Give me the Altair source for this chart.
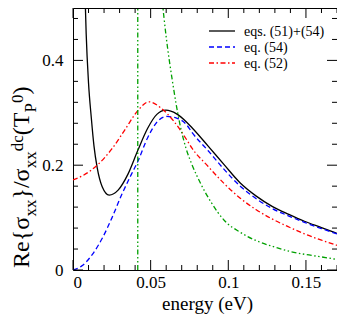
import altair as alt
import pandas as pd

FONT = "Liberation Serif"

# ---- data ----
black_x = [0.0078, 0.0085, 0.0100, 0.0118, 0.0135, 0.0156, 0.0188, 0.0233, 0.0292, 0.0354,
           0.0417, 0.0480, 0.0540, 0.0598, 0.0667, 0.0729, 0.0765, 0.0869, 0.0973, 0.1077,
           0.1180, 0.1285, 0.1390, 0.1490, 0.1600, 0.1700]
black_y = [0.520, 0.450, 0.357, 0.290, 0.237, 0.195, 0.159, 0.143, 0.153, 0.183,
           0.228, 0.270, 0.297, 0.305, 0.298, 0.283, 0.272, 0.237, 0.201, 0.166,
           0.141, 0.121, 0.106, 0.093, 0.081, 0.070]

blue_x = [0.0, 0.00625, 0.0125, 0.01875, 0.025, 0.03125, 0.0375, 0.0417, 0.048, 0.054,
          0.0604, 0.0667, 0.0729, 0.0765, 0.0869, 0.0973, 0.1077, 0.118, 0.1285, 0.139,
          0.149, 0.160, 0.170]
blue_y = [0.0, 0.009, 0.030, 0.060, 0.099, 0.143, 0.182, 0.207, 0.252, 0.282,
          0.293, 0.290, 0.278, 0.263, 0.228, 0.192, 0.160, 0.136, 0.117, 0.103,
          0.091, 0.079, 0.069]

red_x = [0.0, 0.00625, 0.0156, 0.025, 0.0333, 0.0417, 0.049, 0.0563, 0.0646, 0.0729,
         0.0765, 0.0869, 0.0973, 0.1077, 0.118, 0.1285, 0.139, 0.149, 0.160, 0.170]
red_y = [0.172, 0.180, 0.200, 0.231, 0.267, 0.304, 0.321, 0.310, 0.285, 0.250,
         0.233, 0.198, 0.165, 0.137, 0.115, 0.097, 0.082, 0.069, 0.057, 0.047]

green_x = [0.0572, 0.0600, 0.0642, 0.0688, 0.0729, 0.0765, 0.0827, 0.0890, 0.0973, 0.1077,
           0.1180, 0.1285, 0.1390, 0.1490, 0.1600, 0.1700]
green_y = [0.520, 0.445, 0.357, 0.279, 0.231, 0.202, 0.162, 0.129, 0.095, 0.072,
           0.056, 0.045, 0.036, 0.030, 0.025, 0.020]

green_vx = [0.0417, 0.0417]
green_vy = [0.0, 0.5]

x_major_ticks = [0.0, 0.05, 0.1, 0.15]
x_minor_ticks = [0.01, 0.02, 0.03, 0.04, 0.06, 0.07, 0.08, 0.09, 0.11, 0.12, 0.13, 0.14, 0.16, 0.17]
y_major_ticks = [0.0, 0.2, 0.4]
y_minor_ticks = [0.04, 0.08, 0.12, 0.16, 0.24, 0.28, 0.32, 0.36, 0.44, 0.48]

legend_labels = ["eqs. (51)+(54)", "eq. (54)", "eq. (52)"]

# y-axis title pieces: (text, role) ; role: main / sub / sup
ytitle_pieces = [("Re{σ", "main"), ("xx", "sub"), ("}/σ", "main"), ("xx", "sub"),
                 ("dc", "sup"), ("(T", "main"), ("P", "sub"), ("0", "sup"), (")", "main")]

# ---- styles / layout ----
W, H = 264, 262
BLACK, BLUE, RED, GREEN = "#000000", "#0000ff", "#ff0000", "#00a000"
DASH_BLUE = [5, 3]
DASH_RED = [5, 2.5, 1.5, 2.5]
DASH_GREEN = [5, 2.5, 1.5, 2.5, 1.5, 2.5]

xs = alt.Scale(domain=[0, 0.17], nice=False, zero=False)
ys = alt.Scale(domain=[0, 0.5], nice=False, zero=False)

x_axis = alt.Axis(values=x_major_ticks, format="~g", ticks=False, domain=False, grid=False,
                  labelFont=FONT, labelFontSize=17, labelColor="black", labelPadding=4,
                  title="energy (eV)", titleFont=FONT, titleFontSize=19, titleFontWeight="normal",
                  titleColor="black", titleX=W / 2 + 2, titleY=39, titleBaseline="alphabetic")
y_axis = alt.Axis(values=y_major_ticks, format="~g", ticks=False, domain=False, grid=False,
                  labelFont=FONT, labelFontSize=17, labelColor="black", labelPadding=10,
                  labelFlush=False, title=None)


def X(field, axis=None):
    if axis is not None:
        return alt.X(field, scale=xs, axis=axis)
    return alt.X(field, scale=xs)


def Y(field, axis=None):
    if axis is not None:
        return alt.Y(field, scale=ys, axis=axis)
    return alt.Y(field, scale=ys)


def line_layer(xv, yv, color, dash=None, x_ax=None, y_ax=None):
    df = pd.DataFrame({"ex": xv, "ey": yv, "i": list(range(len(xv)))})
    kw = dict(color=color, strokeWidth=1.3, clip=True, interpolate="monotone")
    if dash:
        kw["strokeDash"] = dash
    return alt.Chart(df).mark_line(**kw).encode(
        x=X("ex:Q", x_ax), y=Y("ey:Q", y_ax), order="i:Q")


layers = []
layers.append(line_layer(black_x, black_y, BLACK, None, x_axis, y_axis))
layers.append(line_layer(blue_x, blue_y, BLUE, DASH_BLUE))
layers.append(line_layer(red_x, red_y, RED, DASH_RED))
layers.append(line_layer(green_x, green_y, GREEN, DASH_GREEN))
layers.append(line_layer(green_vx, green_vy, GREEN, DASH_GREEN))


def xticks(vals, length):
    df = pd.DataFrame({"ex": vals})
    bottom = alt.Chart(df).mark_rule(color="black", strokeWidth=1).encode(
        x=X("ex:Q"), y=alt.value(H), y2=alt.value(H - length))
    top = alt.Chart(df).mark_rule(color="black", strokeWidth=1).encode(
        x=X("ex:Q"), y=alt.value(0), y2=alt.value(length))
    return [bottom, top]


def yticks(vals, length):
    df = pd.DataFrame({"ey": vals})
    left = alt.Chart(df).mark_rule(color="black", strokeWidth=1).encode(
        y=Y("ey:Q"), x=alt.value(0), x2=alt.value(length))
    right = alt.Chart(df).mark_rule(color="black", strokeWidth=1).encode(
        y=Y("ey:Q"), x=alt.value(W), x2=alt.value(W - length))
    return [left, right]


layers += xticks(x_major_ticks, 10) + xticks(x_minor_ticks, 5)
layers += yticks(y_major_ticks, 10) + yticks(y_minor_ticks, 5)

# ---- legend ----
leg_styles = [(BLACK, None), (BLUE, DASH_BLUE), (RED, DASH_RED)]
leg_y = [23, 39, 55]
one = pd.DataFrame({"a": [0]})
for lab, (col, dash), yy in zip(legend_labels, leg_styles, leg_y):
    kw = dict(color=col, strokeWidth=1.3)
    if dash:
        kw["strokeDash"] = dash
    layers.append(alt.Chart(one).mark_rule(**kw).encode(
        x=alt.value(136), x2=alt.value(162), y=alt.value(yy)))
    layers.append(alt.Chart(one).mark_text(font=FONT, fontSize=14, align="left",
                                           baseline="middle", color="black").encode(
        x=alt.value(171), y=alt.value(yy + 1), text=alt.value(lab)))

# ---- composite rotated y-axis title (sub/superscripts) ----
MAIN, SMALL = 24, 17
EM = {"R": .667, "e": .444, "{": .48, "}": .48, "/": .278, "(": .333, ")": .333,
      "T": .611, "x": .5, "d": .5, "c": .444, "P": .556, "0": .5, "σ": .55}
base_x = -44          # main baseline, relative to the plot's left edge
shift = {"main": 0, "sub": 7, "sup": -6}
pos = 260             # where the title starts (bottom), plot coordinates
for txt, role in ytitle_pieces:
    size = MAIN if role == "main" else SMALL
    layers.append(alt.Chart(one).mark_text(font=FONT, fontSize=size, angle=270, align="left",
                                           baseline="alphabetic", color="black").encode(
        x=alt.value(base_x + shift[role]), y=alt.value(pos), text=alt.value(txt)))
    pos -= sum(EM[ch] for ch in txt) * size

chart = alt.layer(*layers).properties(
    width=W, height=H,
    autosize=alt.AutoSizeParams(type="none"),
    padding={"left": 65, "top": 0, "right": 0, "bottom": 44},
).configure_view(stroke="black", strokeWidth=1)

chart.save("out.html", embed_options={"renderer": "svg", "actions": False})
